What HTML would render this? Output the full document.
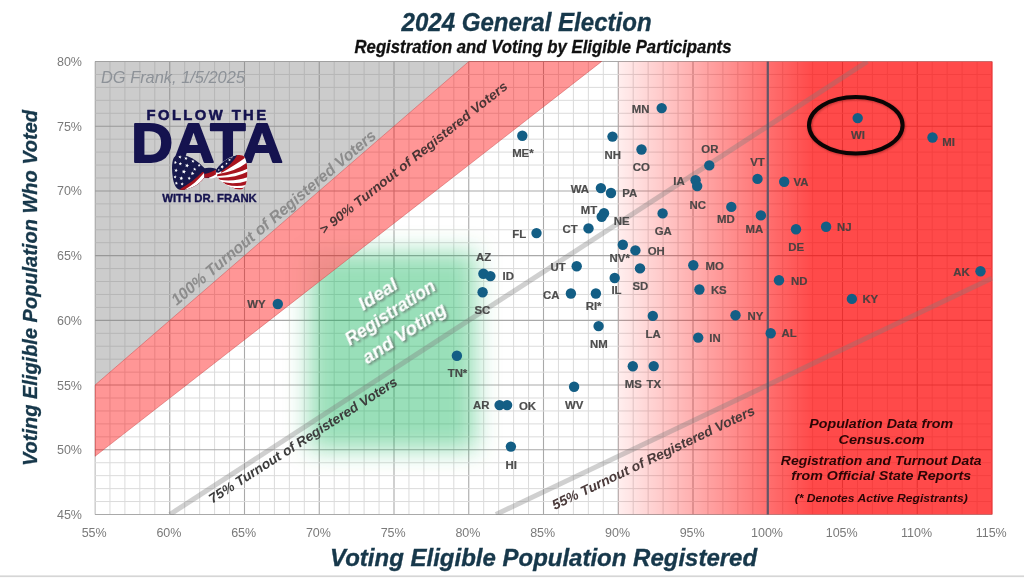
<!DOCTYPE html>
<html lang="en"><head><meta charset="utf-8"><title>2024 General Election - Registration and Voting by Eligible Participants</title>
<style>
html,body{margin:0;padding:0;background:#fff;}
body{width:1024px;height:580px;overflow:hidden;font-family:"Liberation Sans",sans-serif;}
svg{display:block;filter:blur(0.45px);}
text{font-family:"Liberation Sans",sans-serif;}
.tick{font-size:12.5px;fill:#7a7a7a;}
.lbl{font-size:11.4px;font-weight:bold;fill:#3f3f3f;fill-opacity:0.92;stroke:#3f3f3f;stroke-opacity:0.9;stroke-width:0.2px;}
.dot{fill:#135e85;}
.diag{font-weight:bold;font-style:italic;}
</style></head><body>
<svg width="1024" height="580" viewBox="0 0 1024 580">
<defs>
<linearGradient id="redgrad" x1="0" y1="0" x2="1" y2="0">
<stop offset="0" stop-color="#ff0000" stop-opacity="0.065"/>
<stop offset="1" stop-color="#ff0000" stop-opacity="0.71"/>
</linearGradient>
<filter id="blur" x="-40%" y="-40%" width="180%" height="180%"><feGaussianBlur stdDeviation="12"/></filter>
<filter id="tshadow" x="-10%" y="-30%" width="120%" height="160%"><feGaussianBlur stdDeviation="0.8"/></filter>
<filter id="dshadow" x="-10%" y="-40%" width="120%" height="180%"><feGaussianBlur in="SourceAlpha" stdDeviation="0.8" result="b"/><feOffset in="b" dx="1.2" dy="1.6" result="o"/><feFlood flood-color="#555" flood-opacity="0.75"/><feComposite in2="o" operator="in" result="s"/><feMerge><feMergeNode in="s"/><feMergeNode in="SourceGraphic"/></feMerge></filter>
<clipPath id="plotclip"><rect x="94.4" y="60.9" width="898.2" height="454.2"/></clipPath>
<clipPath id="below90"><polygon points="95.0,456.3 601.6,61.5 992.0,61.5 992.0,514.5 95.0,514.5"/></clipPath>
<clipPath id="inband"><polygon points="95.0,385.1 468.8,61.5 601.6,61.5 95.0,456.3"/></clipPath>
</defs>
<rect x="0" y="0" width="1024" height="580" fill="#ffffff"/>

<rect x="0" y="575.4" width="1024" height="1.7" fill="#d6d6d6"/>
<g clip-path="url(#plotclip)">
<rect x="95.0" y="61.5" width="897.0" height="453.0" fill="#fff"/>
<line x1="95.00" y1="61.5" x2="95.00" y2="514.5" stroke="#a9a9a9" stroke-width="1.1"/>
<line x1="109.95" y1="61.5" x2="109.95" y2="514.5" stroke="#dbdbdb" stroke-width="1"/>
<line x1="124.90" y1="61.5" x2="124.90" y2="514.5" stroke="#dbdbdb" stroke-width="1"/>
<line x1="139.85" y1="61.5" x2="139.85" y2="514.5" stroke="#dbdbdb" stroke-width="1"/>
<line x1="154.80" y1="61.5" x2="154.80" y2="514.5" stroke="#dbdbdb" stroke-width="1"/>
<line x1="169.75" y1="61.5" x2="169.75" y2="514.5" stroke="#a9a9a9" stroke-width="1.1"/>
<line x1="184.70" y1="61.5" x2="184.70" y2="514.5" stroke="#dbdbdb" stroke-width="1"/>
<line x1="199.65" y1="61.5" x2="199.65" y2="514.5" stroke="#dbdbdb" stroke-width="1"/>
<line x1="214.60" y1="61.5" x2="214.60" y2="514.5" stroke="#dbdbdb" stroke-width="1"/>
<line x1="229.55" y1="61.5" x2="229.55" y2="514.5" stroke="#dbdbdb" stroke-width="1"/>
<line x1="244.50" y1="61.5" x2="244.50" y2="514.5" stroke="#a9a9a9" stroke-width="1.1"/>
<line x1="259.45" y1="61.5" x2="259.45" y2="514.5" stroke="#dbdbdb" stroke-width="1"/>
<line x1="274.40" y1="61.5" x2="274.40" y2="514.5" stroke="#dbdbdb" stroke-width="1"/>
<line x1="289.35" y1="61.5" x2="289.35" y2="514.5" stroke="#dbdbdb" stroke-width="1"/>
<line x1="304.30" y1="61.5" x2="304.30" y2="514.5" stroke="#dbdbdb" stroke-width="1"/>
<line x1="319.25" y1="61.5" x2="319.25" y2="514.5" stroke="#a9a9a9" stroke-width="1.1"/>
<line x1="334.20" y1="61.5" x2="334.20" y2="514.5" stroke="#dbdbdb" stroke-width="1"/>
<line x1="349.15" y1="61.5" x2="349.15" y2="514.5" stroke="#dbdbdb" stroke-width="1"/>
<line x1="364.10" y1="61.5" x2="364.10" y2="514.5" stroke="#dbdbdb" stroke-width="1"/>
<line x1="379.05" y1="61.5" x2="379.05" y2="514.5" stroke="#dbdbdb" stroke-width="1"/>
<line x1="394.00" y1="61.5" x2="394.00" y2="514.5" stroke="#a9a9a9" stroke-width="1.1"/>
<line x1="408.95" y1="61.5" x2="408.95" y2="514.5" stroke="#dbdbdb" stroke-width="1"/>
<line x1="423.90" y1="61.5" x2="423.90" y2="514.5" stroke="#dbdbdb" stroke-width="1"/>
<line x1="438.85" y1="61.5" x2="438.85" y2="514.5" stroke="#dbdbdb" stroke-width="1"/>
<line x1="453.80" y1="61.5" x2="453.80" y2="514.5" stroke="#dbdbdb" stroke-width="1"/>
<line x1="468.75" y1="61.5" x2="468.75" y2="514.5" stroke="#a9a9a9" stroke-width="1.1"/>
<line x1="483.70" y1="61.5" x2="483.70" y2="514.5" stroke="#dbdbdb" stroke-width="1"/>
<line x1="498.65" y1="61.5" x2="498.65" y2="514.5" stroke="#dbdbdb" stroke-width="1"/>
<line x1="513.60" y1="61.5" x2="513.60" y2="514.5" stroke="#dbdbdb" stroke-width="1"/>
<line x1="528.55" y1="61.5" x2="528.55" y2="514.5" stroke="#dbdbdb" stroke-width="1"/>
<line x1="543.50" y1="61.5" x2="543.50" y2="514.5" stroke="#a9a9a9" stroke-width="1.1"/>
<line x1="558.45" y1="61.5" x2="558.45" y2="514.5" stroke="#dbdbdb" stroke-width="1"/>
<line x1="573.40" y1="61.5" x2="573.40" y2="514.5" stroke="#dbdbdb" stroke-width="1"/>
<line x1="588.35" y1="61.5" x2="588.35" y2="514.5" stroke="#dbdbdb" stroke-width="1"/>
<line x1="603.30" y1="61.5" x2="603.30" y2="514.5" stroke="#dbdbdb" stroke-width="1"/>
<line x1="618.25" y1="61.5" x2="618.25" y2="514.5" stroke="#a9a9a9" stroke-width="1.1"/>
<line x1="633.20" y1="61.5" x2="633.20" y2="514.5" stroke="#dbdbdb" stroke-width="1"/>
<line x1="648.15" y1="61.5" x2="648.15" y2="514.5" stroke="#dbdbdb" stroke-width="1"/>
<line x1="663.10" y1="61.5" x2="663.10" y2="514.5" stroke="#dbdbdb" stroke-width="1"/>
<line x1="678.05" y1="61.5" x2="678.05" y2="514.5" stroke="#dbdbdb" stroke-width="1"/>
<line x1="693.00" y1="61.5" x2="693.00" y2="514.5" stroke="#a9a9a9" stroke-width="1.1"/>
<line x1="707.95" y1="61.5" x2="707.95" y2="514.5" stroke="#dbdbdb" stroke-width="1"/>
<line x1="722.90" y1="61.5" x2="722.90" y2="514.5" stroke="#dbdbdb" stroke-width="1"/>
<line x1="737.85" y1="61.5" x2="737.85" y2="514.5" stroke="#dbdbdb" stroke-width="1"/>
<line x1="752.80" y1="61.5" x2="752.80" y2="514.5" stroke="#dbdbdb" stroke-width="1"/>
<line x1="767.75" y1="61.5" x2="767.75" y2="514.5" stroke="#a9a9a9" stroke-width="1.1"/>
<line x1="782.70" y1="61.5" x2="782.70" y2="514.5" stroke="#dbdbdb" stroke-width="1"/>
<line x1="797.65" y1="61.5" x2="797.65" y2="514.5" stroke="#dbdbdb" stroke-width="1"/>
<line x1="812.60" y1="61.5" x2="812.60" y2="514.5" stroke="#dbdbdb" stroke-width="1"/>
<line x1="827.55" y1="61.5" x2="827.55" y2="514.5" stroke="#dbdbdb" stroke-width="1"/>
<line x1="842.50" y1="61.5" x2="842.50" y2="514.5" stroke="#a9a9a9" stroke-width="1.1"/>
<line x1="857.45" y1="61.5" x2="857.45" y2="514.5" stroke="#dbdbdb" stroke-width="1"/>
<line x1="872.40" y1="61.5" x2="872.40" y2="514.5" stroke="#dbdbdb" stroke-width="1"/>
<line x1="887.35" y1="61.5" x2="887.35" y2="514.5" stroke="#dbdbdb" stroke-width="1"/>
<line x1="902.30" y1="61.5" x2="902.30" y2="514.5" stroke="#dbdbdb" stroke-width="1"/>
<line x1="917.25" y1="61.5" x2="917.25" y2="514.5" stroke="#a9a9a9" stroke-width="1.1"/>
<line x1="932.20" y1="61.5" x2="932.20" y2="514.5" stroke="#dbdbdb" stroke-width="1"/>
<line x1="947.15" y1="61.5" x2="947.15" y2="514.5" stroke="#dbdbdb" stroke-width="1"/>
<line x1="962.10" y1="61.5" x2="962.10" y2="514.5" stroke="#dbdbdb" stroke-width="1"/>
<line x1="977.05" y1="61.5" x2="977.05" y2="514.5" stroke="#dbdbdb" stroke-width="1"/>
<line x1="992.00" y1="61.5" x2="992.00" y2="514.5" stroke="#a9a9a9" stroke-width="1.1"/>
<line x1="95.0" y1="514.50" x2="992.0" y2="514.50" stroke="#a9a9a9" stroke-width="1.1"/>
<line x1="95.0" y1="501.56" x2="992.0" y2="501.56" stroke="#dbdbdb" stroke-width="1"/>
<line x1="95.0" y1="488.61" x2="992.0" y2="488.61" stroke="#dbdbdb" stroke-width="1"/>
<line x1="95.0" y1="475.67" x2="992.0" y2="475.67" stroke="#dbdbdb" stroke-width="1"/>
<line x1="95.0" y1="462.73" x2="992.0" y2="462.73" stroke="#dbdbdb" stroke-width="1"/>
<line x1="95.0" y1="449.79" x2="992.0" y2="449.79" stroke="#a9a9a9" stroke-width="1.1"/>
<line x1="95.0" y1="436.84" x2="992.0" y2="436.84" stroke="#dbdbdb" stroke-width="1"/>
<line x1="95.0" y1="423.90" x2="992.0" y2="423.90" stroke="#dbdbdb" stroke-width="1"/>
<line x1="95.0" y1="410.96" x2="992.0" y2="410.96" stroke="#dbdbdb" stroke-width="1"/>
<line x1="95.0" y1="398.01" x2="992.0" y2="398.01" stroke="#dbdbdb" stroke-width="1"/>
<line x1="95.0" y1="385.07" x2="992.0" y2="385.07" stroke="#a9a9a9" stroke-width="1.1"/>
<line x1="95.0" y1="372.13" x2="992.0" y2="372.13" stroke="#dbdbdb" stroke-width="1"/>
<line x1="95.0" y1="359.19" x2="992.0" y2="359.19" stroke="#dbdbdb" stroke-width="1"/>
<line x1="95.0" y1="346.24" x2="992.0" y2="346.24" stroke="#dbdbdb" stroke-width="1"/>
<line x1="95.0" y1="333.30" x2="992.0" y2="333.30" stroke="#dbdbdb" stroke-width="1"/>
<line x1="95.0" y1="320.36" x2="992.0" y2="320.36" stroke="#a9a9a9" stroke-width="1.1"/>
<line x1="95.0" y1="307.41" x2="992.0" y2="307.41" stroke="#dbdbdb" stroke-width="1"/>
<line x1="95.0" y1="294.47" x2="992.0" y2="294.47" stroke="#dbdbdb" stroke-width="1"/>
<line x1="95.0" y1="281.53" x2="992.0" y2="281.53" stroke="#dbdbdb" stroke-width="1"/>
<line x1="95.0" y1="268.59" x2="992.0" y2="268.59" stroke="#dbdbdb" stroke-width="1"/>
<line x1="95.0" y1="255.64" x2="992.0" y2="255.64" stroke="#a9a9a9" stroke-width="1.1"/>
<line x1="95.0" y1="242.70" x2="992.0" y2="242.70" stroke="#dbdbdb" stroke-width="1"/>
<line x1="95.0" y1="229.76" x2="992.0" y2="229.76" stroke="#dbdbdb" stroke-width="1"/>
<line x1="95.0" y1="216.81" x2="992.0" y2="216.81" stroke="#dbdbdb" stroke-width="1"/>
<line x1="95.0" y1="203.87" x2="992.0" y2="203.87" stroke="#dbdbdb" stroke-width="1"/>
<line x1="95.0" y1="190.93" x2="992.0" y2="190.93" stroke="#a9a9a9" stroke-width="1.1"/>
<line x1="95.0" y1="177.99" x2="992.0" y2="177.99" stroke="#dbdbdb" stroke-width="1"/>
<line x1="95.0" y1="165.04" x2="992.0" y2="165.04" stroke="#dbdbdb" stroke-width="1"/>
<line x1="95.0" y1="152.10" x2="992.0" y2="152.10" stroke="#dbdbdb" stroke-width="1"/>
<line x1="95.0" y1="139.16" x2="992.0" y2="139.16" stroke="#dbdbdb" stroke-width="1"/>
<line x1="95.0" y1="126.21" x2="992.0" y2="126.21" stroke="#a9a9a9" stroke-width="1.1"/>
<line x1="95.0" y1="113.27" x2="992.0" y2="113.27" stroke="#dbdbdb" stroke-width="1"/>
<line x1="95.0" y1="100.33" x2="992.0" y2="100.33" stroke="#dbdbdb" stroke-width="1"/>
<line x1="95.0" y1="87.39" x2="992.0" y2="87.39" stroke="#dbdbdb" stroke-width="1"/>
<line x1="95.0" y1="74.44" x2="992.0" y2="74.44" stroke="#dbdbdb" stroke-width="1"/>
<line x1="95.0" y1="61.50" x2="992.0" y2="61.50" stroke="#a9a9a9" stroke-width="1.1"/>
<rect x="618.2" y="61.5" width="193.8" height="453.0" fill="url(#redgrad)"/>
<rect x="812.0" y="61.5" width="181.0" height="453.0" fill="#ff0000" fill-opacity="0.71"/>
<polygon points="95.0,61.5 468.8,61.5 95.0,385.1" fill="#808080" fill-opacity="0.40"/>
<g clip-path="url(#below90)"><rect x="309.0" y="252.0" width="167.0" height="198.0" fill="#00b050" fill-opacity="0.40" filter="url(#blur)"/></g>
<g clip-path="url(#inband)"><rect x="309.0" y="252.0" width="167.0" height="198.0" fill="#00803a" fill-opacity="0.13" filter="url(#blur)"/></g>
<polygon points="95.0,385.1 468.8,61.5 601.6,61.5 95.0,456.3" fill="#ff0000" fill-opacity="0.41" stroke="#c03030" stroke-opacity="0.5" stroke-width="0.8"/>
<line x1="169.8" y1="514.5" x2="867.4" y2="61.5" stroke="#7c7c7c" stroke-opacity="0.36" stroke-width="5"/>
<line x1="495.9" y1="514.5" x2="992.0" y2="278.3" stroke="#7c7c7c" stroke-opacity="0.36" stroke-width="5"/>
<line x1="767.8" y1="61.5" x2="767.8" y2="514.5" stroke="#44546a" stroke-opacity="0.78" stroke-width="2.3"/>
</g>
<text class="tick" x="94.2" y="537.2" text-anchor="middle">55%</text>
<text class="tick" x="168.9" y="537.2" text-anchor="middle">60%</text>
<text class="tick" x="243.7" y="537.2" text-anchor="middle">65%</text>
<text class="tick" x="318.4" y="537.2" text-anchor="middle">70%</text>
<text class="tick" x="393.2" y="537.2" text-anchor="middle">75%</text>
<text class="tick" x="467.9" y="537.2" text-anchor="middle">80%</text>
<text class="tick" x="542.7" y="537.2" text-anchor="middle">85%</text>
<text class="tick" x="617.5" y="537.2" text-anchor="middle">90%</text>
<text class="tick" x="692.2" y="537.2" text-anchor="middle">95%</text>
<text class="tick" x="767.0" y="537.2" text-anchor="middle">100%</text>
<text class="tick" x="841.7" y="537.2" text-anchor="middle">105%</text>
<text class="tick" x="916.5" y="537.2" text-anchor="middle">110%</text>
<text class="tick" x="991.2" y="537.2" text-anchor="middle">115%</text>
<text class="tick" x="82" y="519.0" text-anchor="end">45%</text>
<text class="tick" x="82" y="454.3" text-anchor="end">50%</text>
<text class="tick" x="82" y="389.6" text-anchor="end">55%</text>
<text class="tick" x="82" y="324.9" text-anchor="end">60%</text>
<text class="tick" x="82" y="260.1" text-anchor="end">65%</text>
<text class="tick" x="82" y="195.4" text-anchor="end">70%</text>
<text class="tick" x="82" y="130.7" text-anchor="end">75%</text>
<text class="tick" x="82" y="66.0" text-anchor="end">80%</text>
<text x="526.6" y="30.8" text-anchor="middle" font-size="26.4" textLength="250" lengthAdjust="spacingAndGlyphs" font-weight="bold" font-style="italic" fill="#17384b" stroke="#17384b" stroke-width="0.35">2024 General Election</text>
<text x="543" y="53.3" text-anchor="middle" font-size="18" textLength="377" lengthAdjust="spacingAndGlyphs" font-weight="bold" font-style="italic" fill="#111" stroke="#111" stroke-width="0.3">Registration and Voting by Eligible Participants</text>
<text x="543.6" y="566.3" text-anchor="middle" font-size="23.7" textLength="427" lengthAdjust="spacingAndGlyphs" font-weight="bold" font-style="italic" fill="#17384b" stroke="#17384b" stroke-width="0.35">Voting Eligible Population Registered</text>
<text transform="translate(37.2,288) rotate(-90)" text-anchor="middle" font-size="19.5" textLength="356" lengthAdjust="spacingAndGlyphs" font-weight="bold" font-style="italic" fill="#17384b" stroke="#17384b" stroke-width="0.3">Voting Eligible Population Who Voted</text>
<text x="101" y="82.5" font-size="16.4" font-style="italic" fill="#8d9298">DG Frank, 1/5/2025</text>
<g fill="#15134f" stroke="#15134f" font-weight="bold" stroke-linejoin="round">
<text x="206.3" y="119.5" text-anchor="middle" font-size="14.8" textLength="119.5" stroke-width="0.55">FOLLOW THE</text>
<text x="207" y="161.6" text-anchor="middle" font-size="56" textLength="151.5" lengthAdjust="spacingAndGlyphs" stroke-width="2">DATA</text>
<text x="209.5" y="202.4" text-anchor="middle" font-size="11.3" textLength="94.6" lengthAdjust="spacingAndGlyphs" stroke-width="0.35">WITH DR. FRANK</text>
</g>
<g id="bowtie" transform="translate(165,148) scale(0.08789)">
<defs>
<clipPath id="lw"><path d="M455,235 C420,195 340,120 250,90 C190,70 125,70 100,112 C75,160 76,260 88,332 C98,398 118,455 158,472 C210,489 292,462 354,424 C404,391 444,352 462,306 Z"/></clipPath>
<clipPath id="rw"><path d="M576,255 C608,198 680,130 772,95 C832,73 888,74 909,108 C934,160 945,250 935,332 C927,402 909,459 867,474 C810,483 718,434 658,393 C618,365 588,337 578,300 Z"/></clipPath>
</defs>
<g clip-path="url(#lw)">
<rect x="60" y="60" width="420" height="440" fill="#17184c"/>
<path d="M120,510 L190,455 C270,410 350,350 425,272 L480,280 L480,510 Z" fill="#a8141f"/>
<path d="M205,510 L232,470 C300,432 375,368 440,288 L480,285 L480,510 Z" fill="#ffffff"/>
<path d="M300,510 L318,452 C370,420 425,372 458,318 L480,315 L480,510 Z" fill="#a8141f"/>
<path d="M380,510 L392,432 C420,408 446,378 464,345 L480,345 L480,510 Z" fill="#ffffff"/>
<g fill="#ffffff">
<polygon points="173,83 176,97 190,100 178,107 179,121 168,112 156,117 161,104 152,94 166,95"/>
<polygon points="241,98 244,112 258,115 246,122 247,136 236,127 224,132 229,119 220,109 234,110"/>
<polygon points="321,130 324,144 338,147 326,154 327,168 316,159 304,164 309,151 300,141 314,142"/>
<polygon points="391,180 394,192 406,195 395,202 396,214 387,206 375,211 380,199 372,190 384,191"/>
<polygon points="121,146 124,159 137,162 126,169 126,182 117,173 104,178 110,166 101,156 114,157"/>
<polygon points="179,159 182,173 196,177 183,184 184,199 173,189 160,195 166,181 156,170 171,172"/>
<polygon points="254,176 258,192 274,197 260,205 261,222 248,211 233,217 239,202 229,189 245,190"/>
<polygon points="341,222 344,236 358,239 346,246 347,260 336,251 324,256 329,243 320,233 334,234"/>
<polygon points="129,234 132,248 146,252 133,259 134,274 123,264 110,270 116,256 106,245 121,247"/>
<polygon points="219,245 223,262 240,267 225,275 226,292 213,281 197,287 204,272 193,258 210,260"/>
<polygon points="316,267 319,283 335,287 321,295 322,311 310,300 295,306 302,291 292,279 307,281"/>
<polygon points="118,311 121,324 134,327 123,334 123,347 114,338 101,343 107,331 98,321 111,322"/>
<polygon points="189,321 193,337 209,342 195,350 196,367 183,356 168,362 174,347 164,334 180,335"/>
<polygon points="278,325 281,339 295,342 283,349 284,363 273,354 261,359 266,346 257,336 271,337"/>
<polygon points="133,380 136,394 150,397 138,404 139,418 128,409 116,414 121,401 112,391 126,392"/>
<polygon points="198,391 201,404 214,407 203,414 203,427 194,418 181,423 187,411 178,401 191,402"/>
</g></g>
<path d="M440,232 C480,222 540,222 592,242 L602,300 C560,342 500,348 450,338 Z" fill="#17184c"/>
<path d="M448,296 C500,286 550,262 594,236 L602,300 C560,328 500,342 450,338 Z" fill="#a8141f"/>
<path d="M500,338 C540,326 570,310 600,288 L604,322 C570,342 540,348 505,348 Z" fill="#ffffff"/>
<g clip-path="url(#rw)">
<rect x="560" y="60" width="400" height="440" fill="#ffffff"/>
<path d="M640,225 Q740,150 860,40 L912,112 Q800,195 640,285 Z" fill="#a8141f"/>
<path d="M596,298 Q800,268 930,168 L945,232 Q805,300 592,322 Z" fill="#a8141f"/>
<path d="M600,338 Q790,346 945,268 L945,330 Q800,384 622,362 Z" fill="#a8141f"/>
<path d="M652,388 Q800,420 940,372 L930,418 Q810,448 694,414 Z" fill="#a8141f"/>
<path d="M745,443 Q830,468 915,446 L905,470 Q845,484 795,466 Z" fill="#a8141f"/>
<path d="M555,275 C608,198 680,130 772,95 L825,72 C790,145 715,225 608,282 Z" fill="#17184c"/>
<g fill="#ffffff">
<polygon points="658,194 658,209 672,216 658,221 656,236 647,224 632,227 640,215 633,201 647,205"/>
<polygon points="741,119 741,131 752,136 741,140 740,151 732,142 721,145 727,135 722,125 733,128"/>
<polygon points="705,165 705,174 714,178 705,182 704,191 698,184 688,186 694,178 689,169 698,172"/>
<polygon points="616,239 616,247 624,250 616,253 615,262 610,255 602,257 607,250 603,243 611,245"/>
<polygon points="763,101 764,107 770,110 764,113 763,120 758,114 752,116 756,110 752,104 759,106"/>
</g>
</g>
</g>
<text class="diag" transform="translate(277.0,221.7) rotate(-40.1)" text-anchor="middle" font-size="16" fill="#8c8c8c" textLength="262" lengthAdjust="spacingAndGlyphs">100% Turnout of Registered Voters</text>
<text class="diag" transform="translate(416.3,161.3) rotate(-38.5)" text-anchor="middle" font-size="13.2" fill="#4a3535" textLength="235.6" lengthAdjust="spacingAndGlyphs">&gt; 90% Turnout of Registered Voters</text>
<text class="diag" transform="translate(305.5,444.0) rotate(-32.7)" text-anchor="middle" font-size="13.6" fill="#3c3c3c" textLength="221" lengthAdjust="spacingAndGlyphs">75% Turnout of Registered Voters</text>
<text class="diag" transform="translate(655.3,461.9) rotate(-25.5)" text-anchor="middle" font-size="13.7" fill="#4a3a3a" textLength="223" lengthAdjust="spacingAndGlyphs">55% Turnout of Registered Voters</text>
<g transform="translate(396,316) rotate(-33)" text-anchor="middle" font-size="18.7" font-weight="bold" font-style="italic">
<text x="-3.4" y="-21.6" fill="#ffffff" filter="url(#dshadow)">Ideal</text>
<text x="-3.0" y="0.3" fill="#ffffff" filter="url(#dshadow)" textLength="104" lengthAdjust="spacingAndGlyphs">Registration</text>
<text x="-2.5" y="24.9" fill="#ffffff" filter="url(#dshadow)">and Voting</text>
</g>
<g text-anchor="middle" font-weight="bold" font-style="italic" fill="#2b0505" lengthAdjust="spacingAndGlyphs">
<text x="881.2" y="428.4" font-size="12.5" textLength="143.8" lengthAdjust="spacingAndGlyphs">Population Data from</text>
<text x="881.5" y="443.7" font-size="12.5" textLength="86" lengthAdjust="spacingAndGlyphs">Census.com</text>
<text x="881.2" y="465" font-size="12.5" textLength="200.8" lengthAdjust="spacingAndGlyphs">Registration and Turnout Data</text>
<text x="881.2" y="479.6" font-size="12.5" textLength="179.7" lengthAdjust="spacingAndGlyphs">from Official State Reports</text>
<text x="881.2" y="501.6" font-size="11.3" textLength="173" lengthAdjust="spacingAndGlyphs">(* Denotes Active Registrants)</text>
</g>
<circle class="dot" cx="277.8" cy="304" r="5.2"/>
<circle class="dot" cx="456.9" cy="355.7" r="5.2"/>
<circle class="dot" cx="483.4" cy="273.8" r="5.2"/>
<circle class="dot" cx="490.4" cy="276.1" r="5.2"/>
<circle class="dot" cx="482.6" cy="292.3" r="5.2"/>
<circle class="dot" cx="499.6" cy="405.1" r="5.2"/>
<circle class="dot" cx="507.1" cy="405.1" r="5.2"/>
<circle class="dot" cx="510.9" cy="446.6" r="5.2"/>
<circle class="dot" cx="536.5" cy="233.1" r="5.2"/>
<circle class="dot" cx="522.3" cy="135.8" r="5.2"/>
<circle class="dot" cx="576.7" cy="266.2" r="5.2"/>
<circle class="dot" cx="570.9" cy="293.5" r="5.2"/>
<circle class="dot" cx="574.1" cy="386.8" r="5.2"/>
<circle class="dot" cx="588.5" cy="228.4" r="5.2"/>
<circle class="dot" cx="595.9" cy="293.5" r="5.2"/>
<circle class="dot" cx="598.6" cy="326.1" r="5.2"/>
<circle class="dot" cx="600.9" cy="188.1" r="5.2"/>
<circle class="dot" cx="604" cy="213.2" r="5.2"/>
<circle class="dot" cx="601.7" cy="216.8" r="5.2"/>
<circle class="dot" cx="611" cy="193" r="5.2"/>
<circle class="dot" cx="612.5" cy="136.6" r="5.2"/>
<circle class="dot" cx="614.7" cy="278" r="5.2"/>
<circle class="dot" cx="622.8" cy="244.8" r="5.2"/>
<circle class="dot" cx="635.4" cy="250.4" r="5.2"/>
<circle class="dot" cx="640" cy="268.4" r="5.2"/>
<circle class="dot" cx="641.5" cy="149.5" r="5.2"/>
<circle class="dot" cx="632.8" cy="366.3" r="5.2"/>
<circle class="dot" cx="653.7" cy="366.1" r="5.2"/>
<circle class="dot" cx="652.8" cy="315.9" r="5.2"/>
<circle class="dot" cx="662.6" cy="213.4" r="5.2"/>
<circle class="dot" cx="661.7" cy="108.1" r="5.2"/>
<circle class="dot" cx="693.3" cy="265.2" r="5.2"/>
<circle class="dot" cx="699.4" cy="289.5" r="5.2"/>
<circle class="dot" cx="698.2" cy="337.6" r="5.2"/>
<circle class="dot" cx="695.6" cy="180.2" r="5.2"/>
<circle class="dot" cx="697.2" cy="186.1" r="5.2"/>
<circle class="dot" cx="709.3" cy="165.4" r="5.2"/>
<circle class="dot" cx="731.3" cy="206.9" r="5.2"/>
<circle class="dot" cx="735.5" cy="315.3" r="5.2"/>
<circle class="dot" cx="757.5" cy="178.9" r="5.2"/>
<circle class="dot" cx="760.9" cy="215.4" r="5.2"/>
<circle class="dot" cx="784.2" cy="181.7" r="5.2"/>
<circle class="dot" cx="796" cy="229.2" r="5.2"/>
<circle class="dot" cx="770.7" cy="333.2" r="5.2"/>
<circle class="dot" cx="779" cy="280.3" r="5.2"/>
<circle class="dot" cx="826.1" cy="226.7" r="5.2"/>
<circle class="dot" cx="851.9" cy="298.9" r="5.2"/>
<circle class="dot" cx="857.7" cy="118.1" r="5.2"/>
<circle class="dot" cx="932.5" cy="137.5" r="5.2"/>
<circle class="dot" cx="980.5" cy="271.2" r="5.2"/>
<text class="lbl" x="256.5" y="307.9" text-anchor="middle">WY</text>
<text class="lbl" x="457.5" y="376.5" text-anchor="middle">TN*</text>
<text class="lbl" x="483.6" y="260.5" text-anchor="middle">AZ</text>
<text class="lbl" x="508.3" y="280.0" text-anchor="middle">ID</text>
<text class="lbl" x="482.4" y="314.2" text-anchor="middle">SC</text>
<text class="lbl" x="481.2" y="409.0" text-anchor="middle">AR</text>
<text class="lbl" x="527.5" y="409.5" text-anchor="middle">OK</text>
<text class="lbl" x="511.2" y="468.9" text-anchor="middle">HI</text>
<text class="lbl" x="519.2" y="237.5" text-anchor="middle">FL</text>
<text class="lbl" x="522.9" y="157.3" text-anchor="middle">ME*</text>
<text class="lbl" x="558" y="270.9" text-anchor="middle">UT</text>
<text class="lbl" x="551.3" y="298.6" text-anchor="middle">CA</text>
<text class="lbl" x="574.1" y="408.6" text-anchor="middle">WV</text>
<text class="lbl" x="570" y="233.1" text-anchor="middle">CT</text>
<text class="lbl" x="593.6" y="310.3" text-anchor="middle">RI*</text>
<text class="lbl" x="598.8" y="348.0" text-anchor="middle">NM</text>
<text class="lbl" x="579.9" y="192.7" text-anchor="middle">WA</text>
<text class="lbl" x="589" y="214.2" text-anchor="middle">MT</text>
<text class="lbl" x="621.6" y="224.6" text-anchor="middle">NE</text>
<text class="lbl" x="629.8" y="197.4" text-anchor="middle">PA</text>
<text class="lbl" x="612.8" y="158.6" text-anchor="middle">NH</text>
<text class="lbl" x="616.5" y="294.1" text-anchor="middle">IL</text>
<text class="lbl" x="619.7" y="261.9" text-anchor="middle">NV*</text>
<text class="lbl" x="656.3" y="255.0" text-anchor="middle">OH</text>
<text class="lbl" x="640.3" y="289.6" text-anchor="middle">SD</text>
<text class="lbl" x="641.4" y="171.0" text-anchor="middle">CO</text>
<text class="lbl" x="633.4" y="388.1" text-anchor="middle">MS</text>
<text class="lbl" x="653.8" y="387.9" text-anchor="middle">TX</text>
<text class="lbl" x="653.2" y="338.0" text-anchor="middle">LA</text>
<text class="lbl" x="663.3" y="235.4" text-anchor="middle">GA</text>
<text class="lbl" x="640.5" y="112.5" text-anchor="middle">MN</text>
<text class="lbl" x="714.8" y="270.0" text-anchor="middle">MO</text>
<text class="lbl" x="718.8" y="294.0" text-anchor="middle">KS</text>
<text class="lbl" x="715" y="341.8" text-anchor="middle">IN</text>
<text class="lbl" x="679" y="185.0" text-anchor="middle">IA</text>
<text class="lbl" x="697.8" y="208.6" text-anchor="middle">NC</text>
<text class="lbl" x="709.9" y="153.0" text-anchor="middle">OR</text>
<text class="lbl" x="725.9" y="222.5" text-anchor="middle">MD</text>
<text class="lbl" x="755.4" y="319.5" text-anchor="middle">NY</text>
<text class="lbl" x="757.5" y="166.0" text-anchor="middle">VT</text>
<text class="lbl" x="754.3" y="232.6" text-anchor="middle">MA</text>
<text class="lbl" x="801" y="186.1" text-anchor="middle">VA</text>
<text class="lbl" x="796.2" y="250.9" text-anchor="middle">DE</text>
<text class="lbl" x="789.2" y="337.4" text-anchor="middle">AL</text>
<text class="lbl" x="799.3" y="284.6" text-anchor="middle">ND</text>
<text class="lbl" x="844.4" y="231.0" text-anchor="middle">NJ</text>
<text class="lbl" x="870.3" y="302.8" text-anchor="middle">KY</text>
<text class="lbl" x="857.9" y="138.9" text-anchor="middle">WI</text>
<text class="lbl" x="948.7" y="146.0" text-anchor="middle">MI</text>
<text class="lbl" x="961.4" y="275.5" text-anchor="middle">AK</text>
<ellipse cx="856.6" cy="126.3" rx="46.8" ry="28.3" fill="none" stroke="#400" stroke-opacity="0.35" stroke-width="4.2" filter="url(#tshadow)"/><ellipse cx="855.8" cy="125.3" rx="46.8" ry="28.3" fill="none" stroke="#0a0505" stroke-width="4"/>
</svg></body></html>
